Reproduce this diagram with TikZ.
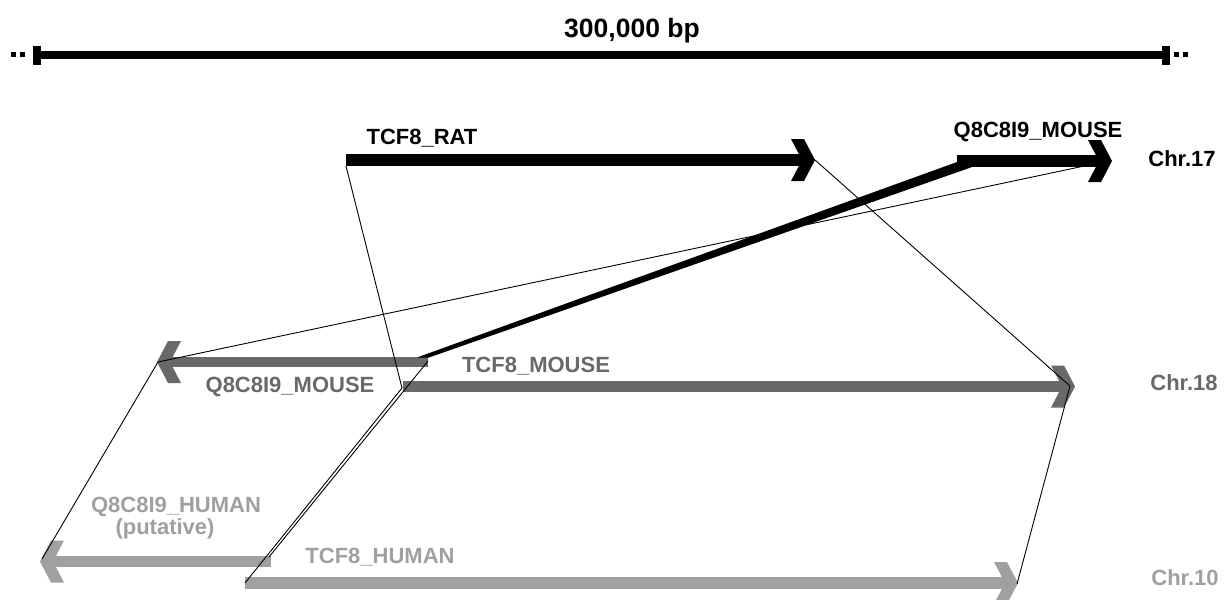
\documentclass[tikz,border=0pt]{standalone}
\usepackage{fontspec}
\setmainfont{Liberation Sans}
\definecolor{gA}{RGB}{105,105,105}
\definecolor{gB}{RGB}{160,160,160}
\tikzset{
  chev/.pic={\path[pic actions] (-24,-21) -- (-11,-21) -- (0,0) -- (-11,21) -- (-24,21) -- (-13,0) -- cycle;},
  lab/.style={font=\fontsize{22}{26}\selectfont\bfseries, inner sep=0pt, anchor=base},
  conn/.style={line width=0.9pt, draw=black},
  shaftline/.style={line cap=butt},
}
\begin{document}
\begin{tikzpicture}[x=1pt,y=-1pt]
\useasboundingbox (0,0) rectangle (1230,599);
\clip (0,0) rectangle (1230,599);
% scale bar
\coordinate (sbL) at (37,55);
\coordinate (sbR) at (1166,55);
\draw[line width=8.5pt] (sbL) -- (sbR);
\fill (33,46) rectangle (41,65);
\fill (1162,46) rectangle (1170,65);
\fill (11,52.5) rectangle (16,57.5);
\fill (20,52.5) rectangle (25,57.5);
\fill (1174,52.5) rectangle (1179,57.5);
\fill (1183,52.5) rectangle (1188,57.5);
\node[lab, font=\fontsize{26.5}{30}\selectfont\bfseries] (scale) at (632,38) {300,000 bp};
% Chr.17 genes
\coordinate (ratS) at (346,160);
\coordinate (ratT) at (815,160);
\draw[shaftline, line width=12pt] (ratS) -- (803,160);
\pic[fill=black] at (ratT) {chev};
\coordinate (q17S) at (957,161);
\coordinate (q17T) at (1112,161);
\draw[shaftline, line width=12pt] (q17S) -- (1100,161);
\pic[fill=black] at (q17T) {chev};
% Chr.18 genes
\coordinate (q18E) at (428,362);
\coordinate (q18T) at (157,362);
\draw[shaftline, line width=10pt, gA] (q18E) -- (169,362);
\pic[fill=gA, xscale=-1] at (q18T) {chev};
\coordinate (m18S) at (403,386.5);
\coordinate (m18T) at (1075,386.5);
\draw[shaftline, line width=11pt, gA] (m18S) -- (1063,386.5);
\pic[fill=gA] at (m18T) {chev};
% Chr.10 genes
\coordinate (q10E) at (271,561.5);
\coordinate (q10T) at (40,561.5);
\draw[shaftline, line width=11pt, gB] (q10E) -- (52,561.5);
\pic[fill=gB, xscale=-1] at (q10T) {chev};
\coordinate (h10S) at (245,583);
\coordinate (h10T) at (1018,583);
\draw[shaftline, line width=12pt, gB] (h10S) -- (1006,583);
\pic[fill=gB] at (h10T) {chev};
% connectors
\coordinate (cRatS) at (346,166);
\coordinate (cM18S) at (402,388);
\coordinate (cRatT) at (815,160);
\coordinate (cM18T) at (1070,386);
\coordinate (cQ17T) at (1108,161);
\coordinate (cQ18T) at (158,362);
\coordinate (cQ18E) at (428,361);
\coordinate (cQ10T) at (42,559);
\coordinate (cQ10E) at (269,557);
\coordinate (cH10S) at (245,583);
\coordinate (cH10T) at (1017,584);
\draw[conn] (cRatS) -- (cM18S);
\draw[conn] (cRatT) -- (cM18T);
\draw[conn] (cQ17T) -- (cQ18T);
\fill (417,357.5) -- (957,162) -- (975,166) -- (429,357.5) -- cycle;
\draw[conn] (cQ18T) -- (cQ10T);
\draw[conn] (cQ18E) -- (cQ10E);
\draw[conn] (cM18S) -- (cH10S);
\draw[conn] (cM18T) -- (cH10T);
% labels
\node[lab] (lRat) at (422,144) {TCF8\_RAT};
\node[lab] (lQ17) at (1038,137) {Q8C8I9\_MOUSE};
\node[lab] (c17) at (1182,166) {Chr.17};
\node[lab, text=gA] (lQ18) at (290,392) {Q8C8I9\_MOUSE};
\node[lab, text=gA] (lM18) at (536,372) {TCF8\_MOUSE};
\node[lab, text=gA] (c18) at (1184,390) {Chr.18};
\node[lab, text=gB] (lQ10) at (176,512) {Q8C8I9\_HUMAN};
\node[lab, text=gB] (lQ10b) at (165,534) {(putative)};
\node[lab, text=gB] (lH10) at (380,563) {TCF8\_HUMAN};
\node[lab, text=gB] (c10) at (1185,585) {Chr.10};
\end{tikzpicture}
\end{document}
